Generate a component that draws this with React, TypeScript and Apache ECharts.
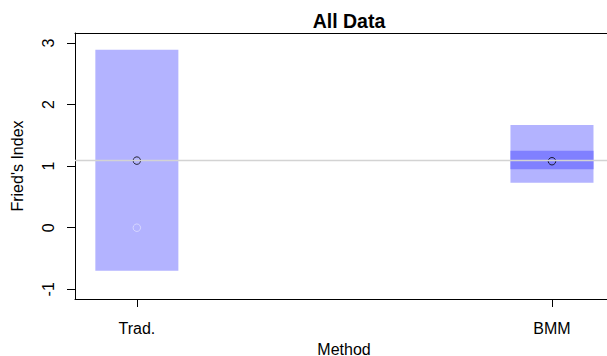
import React, { useEffect, useRef } from "react";
import * as echarts from "echarts";

// Methods along the x axis (placed at positions 1, 2, ...)
const methods = ["Trad.", "BMM"];
// Outer interval per method
const outerLow = [-0.7, 0.73];
const outerHigh = [2.89, 1.67];
// Inner interval per method (null where not drawn)
const innerLow: (number | null)[] = [null, 0.95];
const innerHigh: (number | null)[] = [null, 1.25];
// Point estimates
const estimates = [1.09, 1.08];
// Faint reference points
const faintPoints: (number | null)[] = [0, null];
// Horizontal reference level
const referenceLevel = 1.09;
// Y tick values
const yTicks = [-1, 0, 1, 2, 3];

const FONT = "'Liberation Sans', Arial, Helvetica, sans-serif";
const HALF_WIDTH = 0.1;
const X_MIN = 0.851;
const X_MAX = 2.147;

export default function App() {
  const ref = useRef<HTMLDivElement>(null);

  useEffect(() => {
    if (!ref.current) return;
    const chart = echarts.init(ref.current, undefined, { renderer: "svg" });

    const positions = methods.map((_, i) => i + 1);
    const outerData = positions.map((x, i) => [x, outerLow[i], outerHigh[i]]);
    const innerData = positions
      .map((x, i) => [x, innerLow[i], innerHigh[i]])
      .filter((d) => d[1] != null && d[2] != null);

    const rectRenderer = (fill: string) => (params: any, api: any) => {
      const x = api.value(0);
      const lo = api.value(1);
      const hi = api.value(2);
      const p1 = api.coord([x - HALF_WIDTH, hi]);
      const p2 = api.coord([x + HALF_WIDTH, lo]);
      return {
        type: "rect",
        shape: { x: p1[0], y: p1[1], width: p2[0] - p1[0], height: p2[1] - p1[1] },
        style: { fill },
      };
    };

    chart.setOption({
      animation: false,
      title: {
        text: "All Data",
        left: 344,
        top: 6,
        textAlign: "center",
        textStyle: { fontFamily: FONT, fontSize: 19.5, fontWeight: "bold", color: "#000" },
      },
      grid: {
        left: 75,
        top: 33,
        width: 538,
        height: 266,
        show: false,
        outerBoundsMode: "none",
      },
      xAxis: [
        {
          type: "value",
          position: "bottom",
          min: X_MIN,
          max: X_MAX,
          name: "Method",
          nameLocation: "middle",
          nameGap: 42,
          nameTextStyle: { fontFamily: FONT, fontSize: 16, color: "#000" },
          axisLine: { show: true, onZero: false, lineStyle: { color: "#000", width: 1 } },
          splitLine: { show: false },
          axisTick: { show: true, length: 8, customValues: positions, lineStyle: { color: "#000" } },
          axisLabel: {
            customValues: positions,
            margin: 21,
            fontFamily: FONT,
            fontSize: 16,
            color: "#000",
            formatter: (v: number) => methods[Math.round(v) - 1] ?? "",
          },
        },
        {
          // top edge of the plot frame
          type: "value",
          position: "top",
          min: X_MIN,
          max: X_MAX,
          axisLine: { show: true, onZero: false, lineStyle: { color: "#000", width: 1 } },
          axisTick: { show: false },
          axisLabel: { show: false },
          splitLine: { show: false },
        },
      ],
      yAxis: {
        type: "value",
        min: -1.158,
        max: 3.163,
        name: "Fried's Index",
        nameLocation: "middle",
        nameGap: 50,
        nameRotate: 90,
        nameTextStyle: { fontFamily: FONT, fontSize: 16, color: "#000" },
        axisLine: { show: true, lineStyle: { color: "#000", width: 1 } },
        splitLine: { show: false },
        axisTick: { show: true, length: 8, customValues: yTicks, lineStyle: { color: "#000" } },
        axisLabel: {
          customValues: yTicks,
          rotate: 90,
          margin: 19,
          fontFamily: FONT,
          fontSize: 16,
          color: "#000",
        },
      },
      series: [
        {
          type: "custom",
          renderItem: rectRenderer("#b3b3ff"),
          encode: { x: 0, y: [1, 2] },
          data: outerData,
          silent: true,
        },
        {
          type: "custom",
          renderItem: rectRenderer("#8080ff"),
          encode: { x: 0, y: [1, 2] },
          data: innerData,
          silent: true,
        },
        {
          type: "scatter",
          data: positions.map((x, i) => [x, faintPoints[i]]).filter((d) => d[1] != null),
          symbol: "circle",
          symbolSize: 7.5,
          itemStyle: { color: "none", borderColor: "rgba(255,255,255,0.55)", borderWidth: 1 },
          silent: true,
          markLine: {
            silent: true,
            symbol: "none",
            label: { show: false },
            lineStyle: { color: "#d3d3d3", width: 1.3, type: "solid" },
            data: [{ yAxis: referenceLevel }],
          },
        },
        {
          type: "scatter",
          data: positions.map((x, i) => [x, estimates[i]]),
          symbol: "circle",
          symbolSize: 7.5,
          itemStyle: { color: "none", borderColor: "#000", borderWidth: 1 },
          silent: true,
        },
      ],
    });

    return () => chart.dispose();
  }, []);

  return (
    <div
      ref={ref}
      style={{ position: "fixed", left: 0, top: 0, width: 607, height: 356, background: "#fff" }}
    />
  );
}
